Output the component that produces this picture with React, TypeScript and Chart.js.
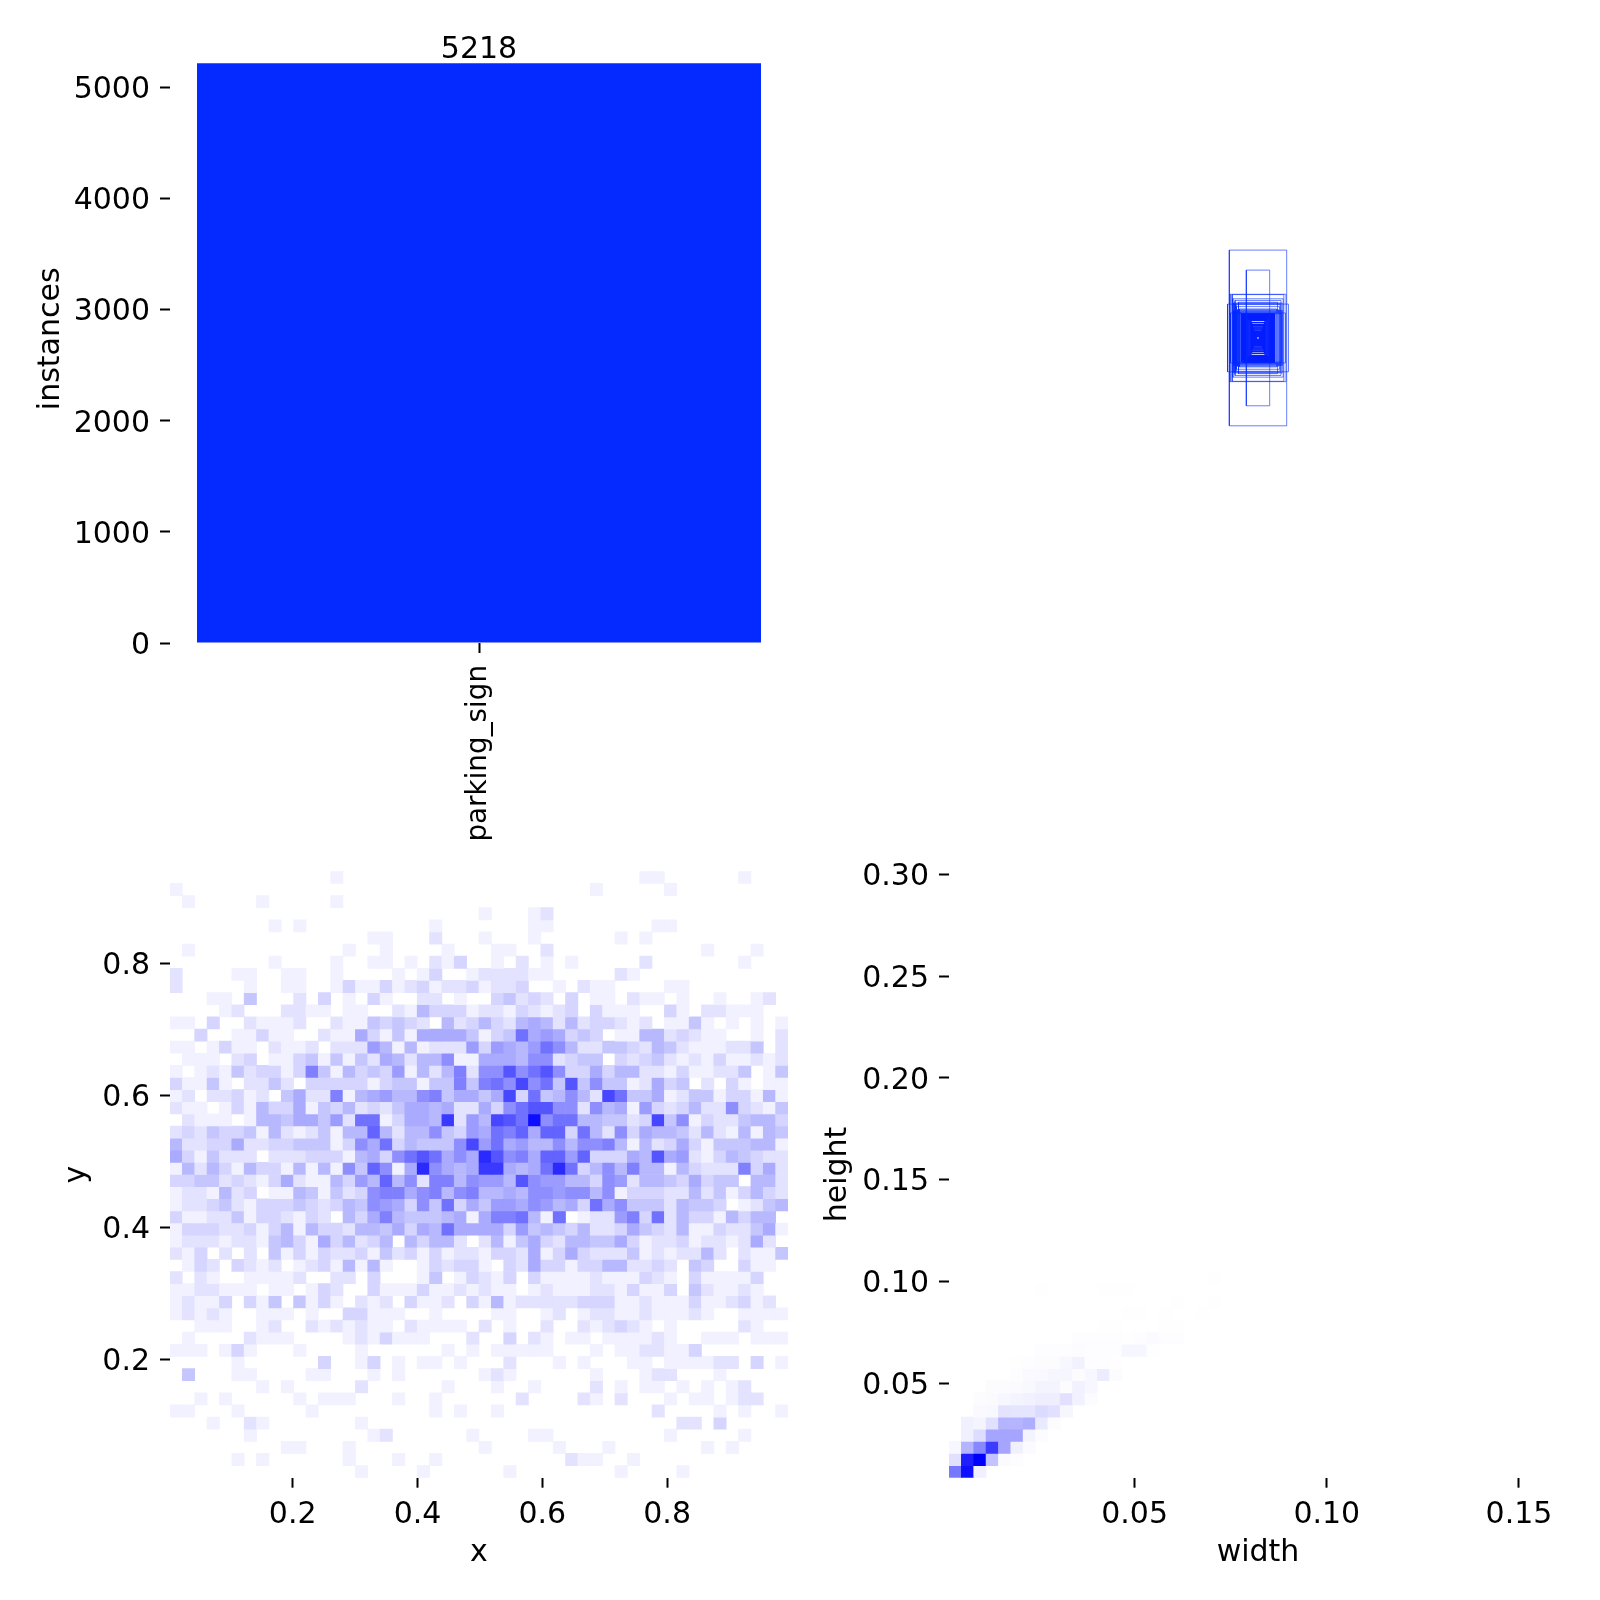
import React, { useEffect, useRef } from "react";
import { Chart, registerables } from "chart.js";

Chart.register(...registerables);
Chart.defaults.font.family = "'DejaVu Sans'";
Chart.defaults.font.size = 30;
Chart.defaults.color = "#000";

const classNames = ["parking_sign"];
const classCounts = [5218];
const countTicks = [0, 1000, 2000, 3000, 4000, 5000];
const xTicks = [0.2, 0.4, 0.6, 0.8];
const yTicks = [0.2, 0.4, 0.6, 0.8];
const widthTicks = [0.05, 0.1, 0.15];
const heightTicks = [0.05, 0.1, 0.15, 0.2, 0.25, 0.3];

// label boxes drawn centred, first the loose outer ones then the dense core
const outerWidths = [0.0928, 0.0378, 0.0987, 0.0906, 0.0836, 0.0782, 0.0739, 0.0701, 0.0663, 0.0631, 0.0766, 0.089, 0.0604, 0.0583, 0.0815, 0.0744, 0.0795, 0.0765, 0.0735, 0.069, 0.0715];
const outerHeights = [0.2897, 0.2237, 0.1116, 0.144, 0.143, 0.1154, 0.1132, 0.1033, 0.0934, 0.1176, 0.0797, 0.0824, 0.0956, 0.0852, 0.1292, 0.1237, 0.0905, 0.0885, 0.0865, 0.0845, 0.11];
const coreWidths = [0.004, 0.0055, 0.007, 0.0085, 0.01, 0.0115, 0.013, 0.0145, 0.016, 0.0175, 0.019, 0.0205, 0.021, 0.023, 0.026, 0.029, 0.032, 0.035, 0.038, 0.041, 0.044, 0.047, 0.05, 0.054];
const coreHeights = [0.006, 0.0085, 0.012, 0.0155, 0.019, 0.0225, 0.026, 0.0295, 0.033, 0.0365, 0.04, 0.0435, 0.0505, 0.0575, 0.059, 0.061, 0.063, 0.065, 0.0675, 0.07, 0.0725, 0.075, 0.0775, 0.08];

// x/y histogram, rows from the top, 50 bins each way
const xyCounts = [
  [0,0,0,0,0,0,0,0,0,0,0,0,0,1,0,0,0,0,0,0,0,0,0,0,0,0,0,0,0,0,0,0,0,0,0,0,0,0,1,1,0,0,0,0,0,0,1,0,0,0],
  [1,0,0,0,0,0,0,0,0,0,0,0,0,0,0,0,0,0,0,0,0,0,0,0,0,0,0,0,0,0,0,0,0,0,1,0,0,0,0,0,1,0,0,0,0,0,0,0,0,0],
  [0,1,0,0,0,0,0,1,0,0,0,0,0,1,0,0,0,0,0,0,0,0,0,0,0,0,0,0,0,0,0,0,0,0,0,0,0,0,0,0,0,0,0,0,0,0,0,0,0,0],
  [0,0,0,0,0,0,0,0,0,0,0,0,0,0,0,0,0,0,0,0,0,0,0,0,0,1,0,0,0,1,2,0,0,0,0,0,0,0,0,0,0,0,0,0,0,0,0,0,0,0],
  [0,0,0,0,0,0,0,0,1,0,1,0,0,0,0,0,0,0,0,0,0,1,0,0,0,0,0,0,0,1,1,0,0,0,0,0,0,0,0,1,1,0,0,0,0,0,0,0,0,0],
  [0,0,0,0,0,0,0,0,0,0,0,0,0,0,0,0,1,1,0,0,0,2,0,0,0,1,0,0,0,1,0,0,0,0,0,0,1,0,1,0,0,0,0,0,0,0,0,0,0,0],
  [0,1,0,0,0,0,0,0,0,0,0,0,0,0,1,0,0,1,0,0,0,0,1,0,0,0,1,1,0,0,2,0,0,0,0,0,0,0,0,0,0,0,0,1,0,0,0,1,0,0],
  [0,0,0,0,0,0,0,0,1,0,0,0,0,1,0,0,1,1,0,1,0,2,1,3,0,0,1,0,2,0,1,0,1,0,0,0,0,0,2,0,0,0,0,0,0,0,1,0,0,0],
  [2,0,0,0,0,1,1,0,0,1,1,0,0,1,0,0,0,0,1,0,1,3,0,0,1,2,2,2,2,1,1,0,0,0,0,0,2,1,0,0,0,0,0,0,0,0,0,0,0,0],
  [2,0,0,0,0,0,1,0,0,1,1,0,0,1,3,1,1,3,1,2,3,1,2,2,3,1,2,2,3,0,0,1,0,2,1,1,0,0,0,0,1,1,0,0,0,0,0,0,0,0],
  [0,0,0,1,1,0,4,0,0,0,2,0,3,0,1,0,3,1,0,0,2,2,0,1,0,0,3,4,2,3,2,0,3,0,1,1,0,2,1,1,0,1,0,0,1,0,0,1,2,0],
  [0,0,0,0,1,2,0,0,0,2,2,1,1,0,1,1,0,0,2,1,5,3,3,3,1,2,2,1,3,2,1,2,3,0,3,1,1,1,0,0,3,1,0,2,2,1,1,1,0,0],
  [1,1,0,3,0,0,2,1,1,1,2,0,0,2,1,1,4,3,4,3,2,0,5,2,3,5,3,2,5,6,5,2,5,2,3,3,2,1,2,0,1,1,4,1,0,1,0,1,0,1],
  [0,0,3,0,0,1,1,3,1,1,0,0,2,1,1,6,3,1,4,1,6,6,6,6,4,1,3,4,10,6,7,6,3,4,3,0,1,1,5,5,2,3,2,1,1,0,0,1,0,2],
  [1,1,0,1,3,1,1,0,2,1,1,2,0,2,2,2,7,5,1,5,1,2,2,2,7,3,7,6,5,7,10,8,5,2,2,4,4,3,2,5,4,2,1,1,1,2,2,4,0,2],
  [0,1,1,1,0,2,3,0,1,1,3,4,1,4,1,4,2,6,5,2,5,5,8,1,1,6,6,6,5,8,8,2,3,4,4,0,3,2,3,4,2,1,2,1,3,1,1,2,1,2],
  [1,0,1,2,1,4,2,3,3,1,3,9,4,1,5,3,4,3,7,1,5,2,5,9,2,8,8,12,8,10,12,8,3,3,6,3,5,5,2,2,1,3,1,1,2,2,4,0,1,4],
  [3,1,1,4,1,0,2,2,4,2,0,3,3,3,3,3,1,3,4,4,1,4,4,9,4,9,10,8,13,8,10,4,12,4,8,4,4,1,2,6,3,4,0,2,0,3,1,0,1,1],
  [1,2,0,2,2,3,1,2,0,4,6,2,2,9,1,5,6,7,5,5,8,9,4,6,6,4,6,13,3,10,4,5,8,5,2,13,10,4,4,6,1,2,4,4,1,3,3,1,5,1],
  [2,1,1,0,1,3,1,5,3,3,6,1,4,3,5,2,3,2,4,6,6,5,6,2,2,6,3,8,10,12,12,8,8,2,8,5,6,1,7,3,2,3,5,2,2,8,3,2,1,4],
  [0,2,1,1,1,0,1,5,5,4,6,6,4,7,2,10,10,1,3,6,6,5,14,2,7,5,13,12,10,17,8,10,10,5,5,4,4,2,3,13,4,8,1,3,2,2,4,5,5,3],
  [2,3,2,4,3,3,4,1,5,2,1,2,4,1,5,5,11,5,2,5,5,8,4,3,7,6,10,9,11,6,11,11,3,10,5,2,8,3,6,5,5,4,2,5,2,1,5,1,5,4],
  [5,2,2,3,3,6,2,2,3,3,4,4,4,1,3,8,6,10,3,5,4,4,4,8,13,7,10,6,7,5,5,8,5,8,8,9,5,1,5,2,3,6,3,1,4,4,4,5,5,1],
  [6,3,1,4,2,2,2,0,2,2,2,3,3,3,1,5,6,3,8,10,12,10,6,8,6,15,12,8,9,6,11,11,7,11,3,3,3,6,5,12,6,7,2,1,3,5,4,3,2,2],
  [1,5,2,5,3,1,5,3,3,1,5,1,5,1,8,4,11,8,1,6,15,8,6,5,6,14,14,6,5,6,10,15,10,3,5,8,5,9,5,5,1,5,3,2,2,2,9,3,6,2],
  [3,3,4,4,2,3,2,1,3,6,2,1,1,5,3,7,5,11,5,8,2,9,9,5,8,7,7,5,12,8,7,7,5,5,3,8,7,2,5,5,4,3,6,3,4,4,0,5,5,2],
  [1,2,2,1,5,2,3,0,1,1,5,4,1,4,2,3,8,9,9,6,8,9,5,8,9,5,5,6,5,8,8,7,8,8,5,8,1,3,3,3,2,2,5,2,4,1,3,5,3,2],
  [1,2,2,3,4,2,1,3,3,3,4,3,2,3,5,4,8,7,6,3,8,4,10,3,6,4,7,7,6,8,7,5,6,3,10,6,8,4,4,4,2,5,4,4,3,0,1,2,4,5],
  [3,1,1,2,2,4,1,3,3,2,1,3,2,0,5,3,6,9,5,4,4,4,5,6,1,6,9,9,10,5,1,10,0,1,2,2,7,9,3,10,2,5,3,3,1,5,3,5,5,0],
  [1,3,3,3,2,2,3,1,3,5,1,5,3,3,2,5,5,4,6,3,6,5,10,6,6,6,6,3,7,4,5,4,3,5,2,2,3,6,4,3,2,5,1,1,3,2,2,4,6,1],
  [1,2,2,2,1,2,2,1,4,5,3,1,6,3,5,2,3,5,0,5,3,5,5,2,0,2,5,1,4,6,3,2,5,5,4,4,6,3,1,2,2,3,1,2,2,1,2,6,2,0],
  [2,1,3,0,2,0,2,0,4,1,3,1,3,2,2,3,1,4,2,3,1,3,1,2,2,1,3,3,2,6,1,3,6,3,2,2,2,4,1,2,1,2,2,5,2,0,2,1,1,4],
  [0,1,3,2,0,3,2,1,2,0,1,2,3,1,5,1,5,1,0,0,1,3,2,3,3,1,0,3,2,6,3,3,1,3,3,5,5,2,2,3,2,0,4,3,0,0,3,1,1,0],
  [2,0,2,1,0,0,1,1,1,1,2,0,0,2,2,0,3,0,0,0,1,4,0,1,3,2,1,3,0,3,1,1,1,1,2,1,1,1,3,2,1,0,3,1,1,1,1,3,0,0],
  [1,1,2,2,1,1,1,0,1,1,0,1,3,2,0,0,3,1,1,1,3,1,1,2,1,2,1,1,0,1,2,1,1,1,2,2,1,3,1,1,3,0,4,2,1,1,2,1,0,0],
  [1,2,1,1,3,0,3,1,4,0,4,1,3,1,0,2,1,2,0,3,1,1,2,0,3,1,5,1,2,2,2,2,2,3,3,3,1,1,2,1,1,1,3,1,1,2,3,1,2,0],
  [1,2,1,2,1,0,0,1,1,1,0,1,0,0,3,3,1,1,1,0,0,1,0,0,0,0,1,1,0,0,1,2,0,1,2,2,1,1,2,1,1,1,2,1,0,0,1,1,1,1],
  [0,0,1,1,1,0,0,1,2,0,0,2,1,2,1,2,1,1,0,2,1,1,1,1,0,2,0,1,0,0,2,0,0,2,1,2,3,2,1,0,1,0,0,0,0,0,2,1,0,0],
  [0,1,0,0,0,0,2,1,1,1,0,0,0,0,1,2,1,3,1,1,1,0,0,0,2,0,0,3,0,2,1,0,1,1,0,1,1,1,1,2,1,0,0,1,1,1,0,1,1,1],
  [1,1,1,0,1,3,1,0,0,0,1,0,0,0,0,1,0,0,0,0,0,0,1,0,1,0,1,1,1,1,1,0,0,0,1,0,1,1,2,2,1,1,3,0,0,0,0,0,0,0],
  [0,0,0,0,0,1,0,0,0,0,0,0,3,0,0,1,3,0,1,0,1,1,0,1,0,0,0,2,0,0,0,1,0,1,0,0,0,1,1,0,1,1,1,1,2,2,0,3,0,1],
  [0,4,0,0,0,1,1,0,0,0,0,1,1,0,0,0,1,0,1,0,0,0,0,0,0,1,2,1,0,0,0,0,0,0,1,0,0,0,1,2,2,0,0,0,1,0,0,0,0,0],
  [0,0,0,0,0,0,0,1,0,1,0,0,0,0,0,2,0,0,0,0,0,0,1,0,0,0,1,0,0,1,0,0,0,0,2,0,1,0,1,1,0,1,0,1,0,1,2,0,0,0],
  [0,0,1,0,1,0,0,0,0,0,1,0,1,1,1,0,0,0,1,0,0,1,0,0,0,0,0,0,2,0,0,0,0,2,1,0,2,0,0,0,1,0,1,1,0,1,2,2,0,0],
  [1,1,0,0,0,1,0,0,0,0,0,1,0,0,0,0,0,0,0,0,0,1,0,1,0,0,1,0,0,0,0,0,0,0,0,0,0,0,0,2,0,0,0,0,1,0,1,0,0,1],
  [0,0,0,1,0,0,2,1,0,0,0,0,0,0,0,1,0,0,0,0,0,0,0,0,0,0,0,0,0,0,0,0,0,0,0,0,0,0,0,0,0,2,2,0,3,0,0,0,0,0],
  [0,0,0,0,0,0,1,0,0,0,0,0,0,0,0,0,1,2,0,0,0,0,0,0,1,0,0,0,0,1,1,0,0,0,0,0,0,0,0,0,1,0,0,0,0,0,1,0,0,0],
  [0,0,0,0,0,0,0,0,0,1,1,0,0,0,1,0,0,0,0,0,0,0,0,0,0,1,0,0,0,0,0,1,0,0,0,1,0,0,0,0,0,0,0,1,0,1,0,0,0,0],
  [0,0,0,0,0,1,0,1,0,0,0,0,0,0,1,0,0,0,1,0,0,1,0,0,0,0,0,0,0,0,0,0,2,1,1,0,0,1,0,0,0,0,0,0,0,0,0,0,0,0],
  [0,0,0,0,0,0,0,0,0,0,0,0,0,0,0,1,0,0,0,0,1,0,0,0,0,0,0,1,0,0,0,0,0,0,0,0,1,0,0,0,0,1,0,0,0,0,0,0,0,0],
];
const xyMaxCount = 18;

// width/height histogram, rows from the top of the occupied part down to the smallest bin
const whCounts = [
  [0,0,0,0,0,0,0,0,0,0,0,0,0,0,0,0,0,0,0,0,0,2],
  [0,0,0,0,0,0,0,2,0,0,0,0,2,2,2],
  [0,0,0,0,0,0,0,0,0,0,0,0,0,0,0,0,0,0,2,0,0,2],
  [0,0,0,0,0,0,0,0,0,0,0,0,0,0,2,2,0,2,0,0,2],
  [0,0,0,0,0,0,0,0,0,0,0,0,3,3,0,0,0,3,3],
  [0,0,0,0,0,0,0,0,0,0,4,4,4,4,2,4,10,5,5],
  [0,0,0,0,0,0,0,4,4,4,6,4,4,4,20,20,3],
  [0,0,0,0,0,3,5,8,8,18,30,5,5,3],
  [0,0,0,0,0,5,14,14,21,21,8,18,45,8],
  [0,0,0,8,8,12,16,25,25,8,32,18],
  [0,0,6,12,18,25,32,40,40,70,32,6],
  [0,0,15,16,65,60,60,85,70,22],
  [0,35,25,70,175,175,190,50,7],
  [0,35,80,210,210,210,25,7],
  [18,175,280,455,210,35,10],
  [70,525,595,140,10,5],
  [315,560,35],
];
const whMaxCount = 595;

const BIN_COLS = 50;
const BIN_ROWS = 50;

const black = "#000";

function numberAxis(ticks: number[], digits: number, min: number, max: number, title: string, size: number, titlePad: number, labelOffset = 0) {
  return {
    type: "linear",
    min,
    max,
    offset: false,
    afterBuildTicks: (scale: any) => {
      scale.ticks = ticks.map((value) => ({ value }));
    },
    afterFit: (scale: any) => {
      if (scale.isHorizontal()) scale.height = size;
      else scale.width = size;
    },
    ticks: {
      autoSkip: false,
      maxRotation: 0,
      padding: 10,
      labelOffset,
      color: black,
      callback: (value: any) => Number(value).toFixed(digits),
    },
    grid: { drawOnChartArea: false, offset: false, tickLength: 10, tickWidth: 2, tickColor: black },
    border: { display: false },
    title: { display: true, text: title, color: black, padding: titlePad },
  };
}

// one floating-bar dataset per histogram row
function heatDatasets(rows: number[][], xMin: number, xMax: number, yTop: number, yBottom: number, bottomUp: number, maxCount: number) {
  const dx = (xMax - xMin) / BIN_COLS;
  const dy = (yTop - yBottom) / BIN_ROWS;
  return rows.map((row, r) => {
    const top = bottomUp >= 0 ? yBottom + (bottomUp - r + 1) * dy : yTop - r * dy;
    const data: any[] = [];
    const colors: string[] = [];
    row.forEach((count, c) => {
      if (!count) return;
      const shade = Math.round(255 * (1 - count / maxCount));
      data.push({ x: xMin + (c + 0.5) * dx, y: [top - dy, top] });
      colors.push(`rgb(${shade},${shade},255)`);
    });
    return { data, backgroundColor: colors, borderWidth: 0, grouped: false, barPercentage: 1, categoryPercentage: 1 };
  });
}

function boxDataset(w: number, h: number, color: string, lineWidth: number) {
  return {
    data: [
      { x: -w / 2, y: -h / 2 },
      { x: w / 2, y: -h / 2 },
      { x: w / 2, y: h / 2 },
      { x: -w / 2, y: h / 2 },
      { x: -w / 2, y: -h / 2 },
    ],
    showLine: true,
    borderColor: color,
    borderWidth: lineWidth,
    pointRadius: 0,
  };
}

const barValueLabel = {
  id: "barValueLabel",
  afterDatasetsDraw(chart: any) {
    const { ctx } = chart;
    const bar = chart.getDatasetMeta(0).data[0];
    ctx.save();
    ctx.font = "30px 'DejaVu Sans'";
    ctx.fillStyle = black;
    ctx.textAlign = "center";
    ctx.textBaseline = "alphabetic";
    ctx.fillText(String(classCounts[0]), bar.x, bar.y - 5);
    ctx.restore();
  },
};

const baseOptions = {
  responsive: false,
  animation: false,
  devicePixelRatio: 1,
  plugins: { legend: { display: false }, tooltip: { enabled: false } },
};

const barConfig = {
  type: "bar",
  data: {
    labels: classNames,
    datasets: [{ data: classCounts, backgroundColor: "#042AFF", barPercentage: 0.9126, categoryPercentage: 1, borderWidth: 0 }],
  },
  options: {
    ...baseOptions,
    layout: { padding: { top: 34.7, right: 12 } },
    scales: {
      x: {
        afterFit: (scale: any) => {
          scale.height = 217;
        },
        ticks: { minRotation: 90, maxRotation: 90, padding: 12, color: black, font: { size: 27.8 } },
        grid: { drawOnChartArea: false, offset: false, tickLength: 10, tickWidth: 2, tickColor: black },
        border: { display: false },
      },
      y: numberAxis(countTicks, 0, 0, 5475, "instances", 170, 33, 3),
    },
  },
  plugins: [barValueLabel],
};

const boxesConfig = {
  type: "scatter",
  data: {
    datasets: [
      ...outerWidths.map((w, i) => boxDataset(w, outerHeights[i], "rgba(4,42,255,0.6)", 1)),
      ...coreWidths.map((w, i) => boxDataset(w, coreHeights[i], "rgb(4,30,255)", 1.5)),
    ],
  },
  options: {
    ...baseOptions,
    layout: { padding: { left: 149, right: 33, top: 34.7, bottom: 218.8 } },
    scales: {
      x: { display: false, min: -0.5, max: 0.5 },
      y: { display: false, min: -0.5, max: 0.5 },
    },
  },
};

const xyConfig = {
  type: "bar",
  data: { datasets: heatDatasets(xyCounts, 0.0034, 0.9937, 0.939, 0.0202, -1, xyMaxCount) },
  options: {
    ...baseOptions,
    layout: { padding: { top: 111.3, right: 12 } },
    scales: {
      x: numberAxis(xTicks, 1, 0.0034, 0.9937, "x", 122.3, 29),
      y: numberAxis(yTicks, 1, 0.0202, 0.939, "y", 170, 59.5, 3),
    },
  },
};

const whConfig = {
  type: "bar",
  data: { datasets: heatDatasets(whCounts, 0.00171, 0.1625, 0.3015, 0.0036, whCounts.length - 1, whMaxCount) },
  options: {
    ...baseOptions,
    layout: { padding: { top: 111.3, right: 33 } },
    scales: {
      x: numberAxis(widthTicks, 2, 0.00171, 0.1625, "width", 122.3, 29),
      y: numberAxis(heightTicks, 2, 0.0036, 0.3015, "height", 149, 20, 3),
    },
  },
};

const ChartCanvas: React.FC<{ config: any; left: number; top: number; width: number; height: number }> = ({ config, left, top, width, height }) => {
  const canvasRef = useRef<HTMLCanvasElement>(null);

  useEffect(() => {
    if (!canvasRef.current) return;
    const chart = new Chart(canvasRef.current, config);
    return () => chart.destroy();
  }, [config]);

  return <canvas ref={canvasRef} width={width} height={height} style={{ position: "absolute", left, top, width, height }} />;
};

export default function App() {
  return (
    <div style={{ position: "absolute", left: 0, top: 0, width: 1600, height: 1600, background: "#fff" }}>
      <ChartCanvas config={xyConfig} left={0} top={760} width={800} height={840} />
      <ChartCanvas config={whConfig} left={800} top={760} width={800} height={840} />
      <ChartCanvas config={barConfig} left={0} top={0} width={800} height={860} />
      <ChartCanvas config={boxesConfig} left={800} top={0} width={800} height={860} />
    </div>
  );
}
